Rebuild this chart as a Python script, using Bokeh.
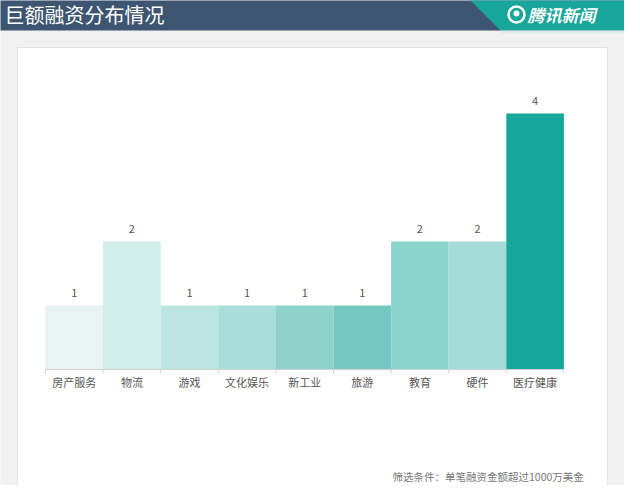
from bokeh.plotting import figure
from bokeh.models import Range1d
from bokeh.core.properties import value
from bokeh.embed import file_html
from bokeh.resources import INLINE

categories = ["房产服务", "物流", "游戏", "文化娱乐", "新工业", "旅游", "教育", "硬件", "医疗健康"]
counts = [1, 2, 1, 1, 1, 1, 2, 2, 4]
bar_colors = ["#e7f4f2", "#d1edea", "#bce5e1", "#a8ddd8", "#8fd3cc", "#73c9c1",
              "#8cd5ce", "#a6dcd8", "#14a79a"]
title_text = "巨额融资分布情况"
brand_text = "腾讯新闻"
note_text = "筛选条件：单笔融资金额超过1000万美金"

W, H = 624, 485
OFF = 8
# layout (page pixels)
BAR_LEFT_PX = 53 - OFF
BAR_W_PX = 57.6
BASE_PX = 377 - OFF
UNIT_PX = 64.0

x0 = -0.5 - BAR_LEFT_PX / BAR_W_PX
x1 = x0 + W / BAR_W_PX
y_top = BASE_PX / UNIT_PX
y_bot = y_top - H / UNIT_PX


def px(xp):
    return x0 + (xp - OFF) / BAR_W_PX


def py(yp):
    return y_top - (yp - OFF) / UNIT_PX


p = figure(width=W, height=H, output_backend="svg", toolbar_location=None,
           x_range=Range1d(x0, x1), y_range=Range1d(y_bot, y_top),
           min_border=0, min_border_left=0, min_border_right=0,
           min_border_top=0, min_border_bottom=0)
p.axis.visible = False
p.grid.visible = False
p.outline_line_color = None
p.background_fill_color = "#f1f1f1"
p.border_fill_color = "#f1f1f1"

FONT = value("Noto Sans CJK SC")

# banner
p.quad(left=[px(0)], right=[px(640)], top=[py(0)], bottom=[py(38)],
       fill_color="#3d5571", line_color=None)
p.patch(x=[px(470), px(640), px(640), px(508)], y=[py(0), py(0), py(38), py(38)],
        fill_color="#17a699", line_color=None)
p.patch(x=[px(508), px(640), px(640), px(510)], y=[py(38), py(38), py(41), py(41)],
        fill_color="#d9ecea", line_color=None)
p.text(x=[px(12)], y=[py(22)], text=[title_text], text_font=FONT,
       text_font_size="20px", text_color="#ffffff", text_baseline="middle",
       text_align="left")
# brand logo
p.scatter(x=[px(524)], y=[py(22)], size=16, marker="circle", fill_color=None,
          line_color="#ffffff", line_width=2.5)
p.scatter(x=[px(524)], y=[py(21)], size=6, marker="circle", fill_color="#ffffff",
          line_color=None)
p.text(x=[px(535)], y=[py(22)], text=[brand_text], text_font=FONT,
       text_font_size="17px", text_font_style="bold italic", text_color="#ffffff",
       text_baseline="middle", text_align="left")

# panel
p.quad(left=[px(25)], right=[px(615)], top=[py(55)], bottom=[py(505)],
       fill_color="#ffffff", line_color="#e3e3e3", line_width=1)

# bars
xs = list(range(len(categories)))
p.vbar(x=xs, width=1.0, top=counts, bottom=0, fill_color=bar_colors, line_color=None)

# axis line and ticks
p.segment(x0=[-0.5], y0=[0], x1=[len(categories) - 0.5], y1=[0],
          line_color="#d0d0d0", line_width=1)
tick_x = [i - 0.5 for i in range(len(categories) + 1)]
p.segment(x0=tick_x, y0=[0] * len(tick_x), x1=tick_x, y1=[-4 / UNIT_PX] * len(tick_x),
          line_color="#d0d0d0", line_width=1)

# labels
p.text(x=xs, y=counts, text=[str(c) for c in counts], text_font=FONT,
       text_font_size="11px", text_color="#555555", text_align="center",
       text_baseline="middle", y_offset=-13)
p.text(x=xs, y=[0] * len(xs), text=categories, text_font=FONT,
       text_font_size="11px", text_color="#555555", text_align="center",
       text_baseline="middle", y_offset=12)

# note
p.text(x=[px(400)], y=[py(484)], text=[note_text], text_font=FONT,
       text_font_size="10.5px", text_color="#777777", text_align="left",
       text_baseline="middle")

open("out.html", "w").write(file_html(p, INLINE))
